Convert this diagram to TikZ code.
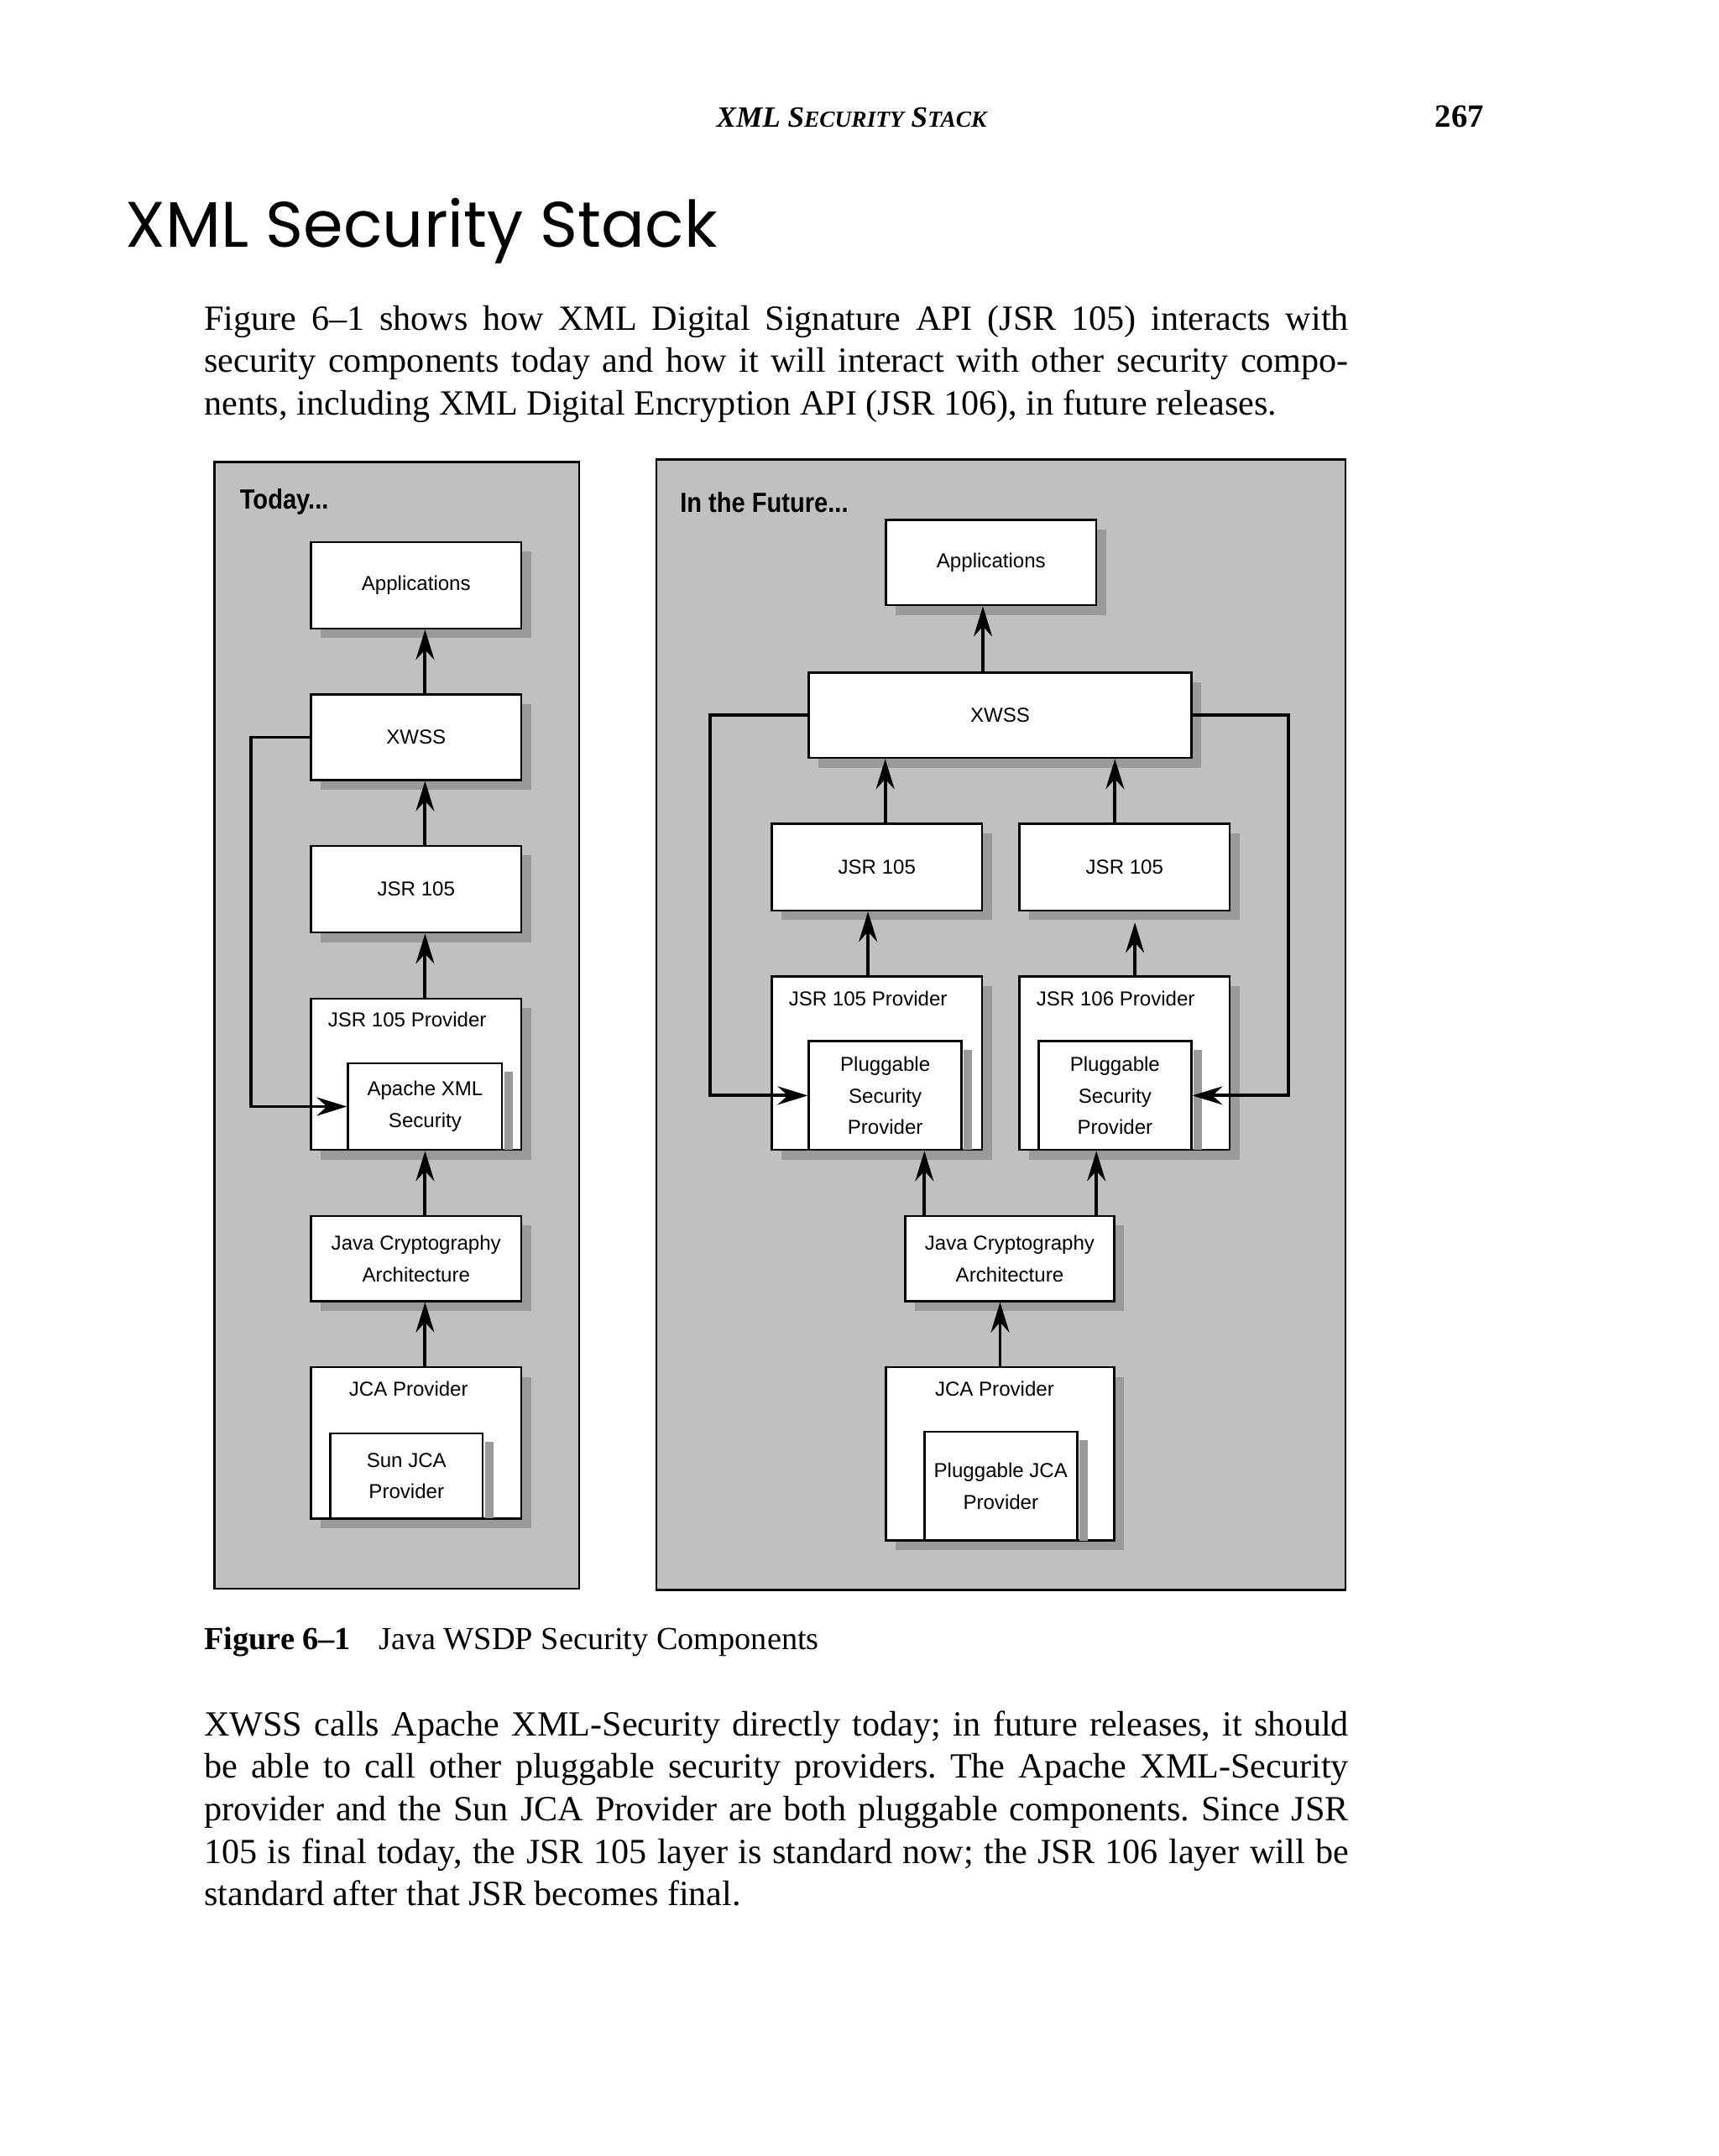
\documentclass[tikz,border=0pt]{standalone}
\usepackage{fontspec}
\usepackage{graphicx}
\setmainfont{Liberation Serif}
\newfontfamily\diagfont{Liberation Sans}
\newfontfamily\titlefont{Poppins}
\usetikzlibrary{arrows.meta,shadows}
\definecolor{panelgray}{HTML}{C0C0C0}
\definecolor{shadowgray}{HTML}{9A9A9A}
\newcommand{\pu}{0.016389cm}
\tolerance=9999
\frenchspacing

\begin{document}
\begin{tikzpicture}[x=0.016389cm, y=-0.016389cm,
	sz/.style 2 args={minimum width=#1*\pu, minimum height=#2*\pu},
	panel/.style={draw, line width=0.7pt, fill=panelgray},
	blk/.style={draw, fill=white, line width=0.7pt, inner sep=0pt, align=center,
		font=\diagfont\fontsize{6.85}{10.7}\selectfont,
		drop shadow={shadow xshift=0.115cm, shadow yshift=-0.115cm, fill=shadowgray, opacity=1}},
	inblk/.style={draw, fill=white, line width=0.7pt, inner sep=0pt, align=center,
		font=\diagfont\fontsize{6.85}{10.7}\selectfont},
	lbl/.style={inner sep=0pt, font=\diagfont\fontsize{6.85}{10.7}\selectfont},
	ttl/.style={inner sep=0pt, anchor=west, font=\diagfont\bfseries\fontsize{9.4}{11}\selectfont},
	arr/.style={line width=1.1pt, -{Stealth[length=3.6mm,width=2.2mm,inset=1.2mm]}},
	para/.style={inner sep=0pt, anchor=base west, text width=13.635cm, align=justify,
		font=\fontsize{12}{14.4}\selectfont}
]
	% page
	\useasboundingbox (0,0) rectangle (1249.6,1567.5);
	\fill[white] (0,0) rectangle (1249.6,1567.5);

	% running head and title
	\node[inner sep=0pt, anchor=base, font=\fontsize{10}{12}\selectfont\bfseries\itshape] (runhead) at (619,92.7)
		{XML S{\fontsize{7.8}{10}\selectfont ECURITY} S{\fontsize{7.8}{10}\selectfont TACK}};
	\node[inner sep=0pt, anchor=base east, font=\fontsize{11}{13}\selectfont\bfseries] (pageno) at (1079,92.7) {267};
	\node[inner sep=0pt, anchor=base west, font=\titlefont\fontsize{21.8}{26}\selectfont] (title) at (91,179.4) {XML Security Stack};

	\node[para] (intro) at (148,240) {Figure 6–1 shows how XML Digital Signature API (JSR 105) interacts with\linebreak
		security components today and how it will interact with other security compo-\linebreak
		nents, including XML Digital Encryption API (JSR 106), in future releases.};

	% panels
	\draw[panel] (156,336) rectangle (421,1155);
	\draw[panel] (477,334) rectangle (978,1156);
	\node[ttl] (today) at (174,365) {\scalebox{0.88}[1]{Today...}};
	\node[ttl] (future) at (494,365) {\scalebox{0.88}[1]{In the Future...}};

	% today
	\node[blk, sz={153}{63}] (appT) at (302.5,425.5) {Applications};
	\node[blk, sz={153}{62}] (xwssT) at (302.5,536) {XWSS};
	\node[blk, sz={153}{63}] (jsrT) at (302.5,646.5) {JSR 105};
	\node[blk, sz={153}{110}] (provT) at (302.5,781) {};
	\node[lbl] (provTl) at (296,741) {JSR 105 Provider};
	\node[inblk, sz={112}{63}] (apacheT) at (309,804.5) {Apache XML\\Security};
	\fill[shadowgray] ([yshift=-7*\pu, xshift=0.35pt]apacheT.north east) rectangle ([xshift=7*\pu, yshift=0.35pt]apacheT.south east);
	\node[blk, sz={153}{62}] (jcaT) at (302.5,915) {Java Cryptography\\Architecture};
	\node[blk, sz={153}{110}] (jcaprovT) at (302.5,1049) {};
	\node[lbl] (jcaprovTl) at (297,1010) {JCA Provider};
	\node[inblk, sz={111}{62}] (sunT) at (295.5,1073) {Sun JCA\\Provider};
	\fill[shadowgray] ([yshift=-7*\pu, xshift=0.35pt]sunT.north east) rectangle ([xshift=7*\pu, yshift=0.35pt]sunT.south east);

	\draw[arr] (xwssT.north -| apacheT) -- (appT.south -| apacheT);
	\draw[arr] (jsrT.north -| apacheT) -- (xwssT.south -| apacheT);
	\draw[arr] (provT.north -| apacheT) -- (jsrT.south -| apacheT);
	\draw[arr] (jcaT.north -| apacheT) -- (apacheT.south);
	\draw[arr] (jcaprovT.north -| apacheT) -- (jcaT.south -| apacheT);
	\draw[arr] (xwssT.west) -- ++(-43,0) |- (apacheT.west);

	% future
	\node[blk, sz={153}{62}] (appF) at (720.5,409) {Applications};
	\node[blk, sz={278}{62}] (xwssF) at (727,520) {XWSS};
	\node[blk, sz={153}{63}] (jsrFa) at (637.5,630.5) {JSR 105};
	\node[blk, sz={153}{63}] (jsrFb) at (817.5,630.5) {JSR 105};
	\node[blk, sz={153}{126}] (provFa) at (637.5,773) {};
	\node[lbl] (provFal) at (631,726) {JSR 105 Provider};
	\node[inblk, sz={111}{79}] (plugFa) at (643.5,796.5) {Pluggable\\Security\\Provider};
	\fill[shadowgray] ([yshift=-7*\pu, xshift=0.35pt]plugFa.north east) rectangle ([xshift=7*\pu, yshift=0.35pt]plugFa.south east);
	\node[blk, sz={153}{126}] (provFb) at (817.5,773) {};
	\node[lbl] (provFbl) at (811,726) {JSR 106 Provider};
	\node[inblk, sz={111}{79}] (plugFb) at (810.5,796.5) {Pluggable\\Security\\Provider};
	\fill[shadowgray] ([yshift=-7*\pu, xshift=0.35pt]plugFb.north east) rectangle ([xshift=7*\pu, yshift=0.35pt]plugFb.south east);
	\node[blk, sz={152}{62}] (jcaF) at (734,915) {Java Cryptography\\Architecture};
	\node[blk, sz={166}{126}] (jcaprovF) at (727,1057) {};
	\node[lbl] (jcaprovFl) at (723,1010) {JCA Provider};
	\node[inblk, sz={111}{79}] (plugjcaF) at (727.5,1080.5) {Pluggable JCA\\Provider};
	\fill[shadowgray] ([yshift=-7*\pu, xshift=0.35pt]plugjcaF.north east) rectangle ([xshift=7*\pu, yshift=0.35pt]plugjcaF.south east);

	\draw[arr] ([xshift=-6*\pu]appF.south |- xwssF.north) -- ([xshift=-6*\pu]appF.south);
	\draw[arr] (jsrFa.north -| plugFa) -- (xwssF.south -| plugFa);
	\draw[arr] (jsrFb.north -| plugFb) -- (xwssF.south -| plugFb);
	\draw[arr] ([xshift=-6.5*\pu]jsrFa.south |- provFa.north) -- ([xshift=-6.5*\pu]jsrFa.south);
	\draw[arr, shorten >=0.13cm] ([xshift=7.5*\pu]jsrFb.south |- provFb.north) -- ([xshift=7.5*\pu]jsrFb.south);
	\draw[arr] ([xshift=-62*\pu]jcaF.north) -- ([xshift=-62*\pu]jcaF.north |- plugFa.south);
	\draw[arr] ([xshift=63*\pu]jcaF.north) -- ([xshift=63*\pu]jcaF.north |- plugFb.south);
	\draw[arr] (jcaprovF.north) -- (jcaF.south -| jcaprovF.north);
	\draw[arr] (xwssF.west) -- ++(-71,0) |- (plugFa.west);
	\draw[arr] (xwssF.east) -- ++(70,0) |- (plugFb.east);

	% caption and text below
	\node[inner sep=0pt, anchor=base west, font=\fontsize{10.9}{13}\selectfont] (caption) at (148,1199)
		{\textbf{Figure 6–1}\hspace{9.4pt}Java WSDP Security Components};

	\node[para] (outro) at (148,1262) {XWSS calls Apache XML-Security directly today; in future releases, it should\linebreak
		be able to call other pluggable security providers. The Apache XML-Security\linebreak
		provider and the Sun JCA Provider are both pluggable components. Since JSR\linebreak
		105 is final today, the JSR 105 layer is standard now; the JSR 106 layer will be\linebreak
		standard after that JSR becomes final.};
\end{tikzpicture}
\end{document}
